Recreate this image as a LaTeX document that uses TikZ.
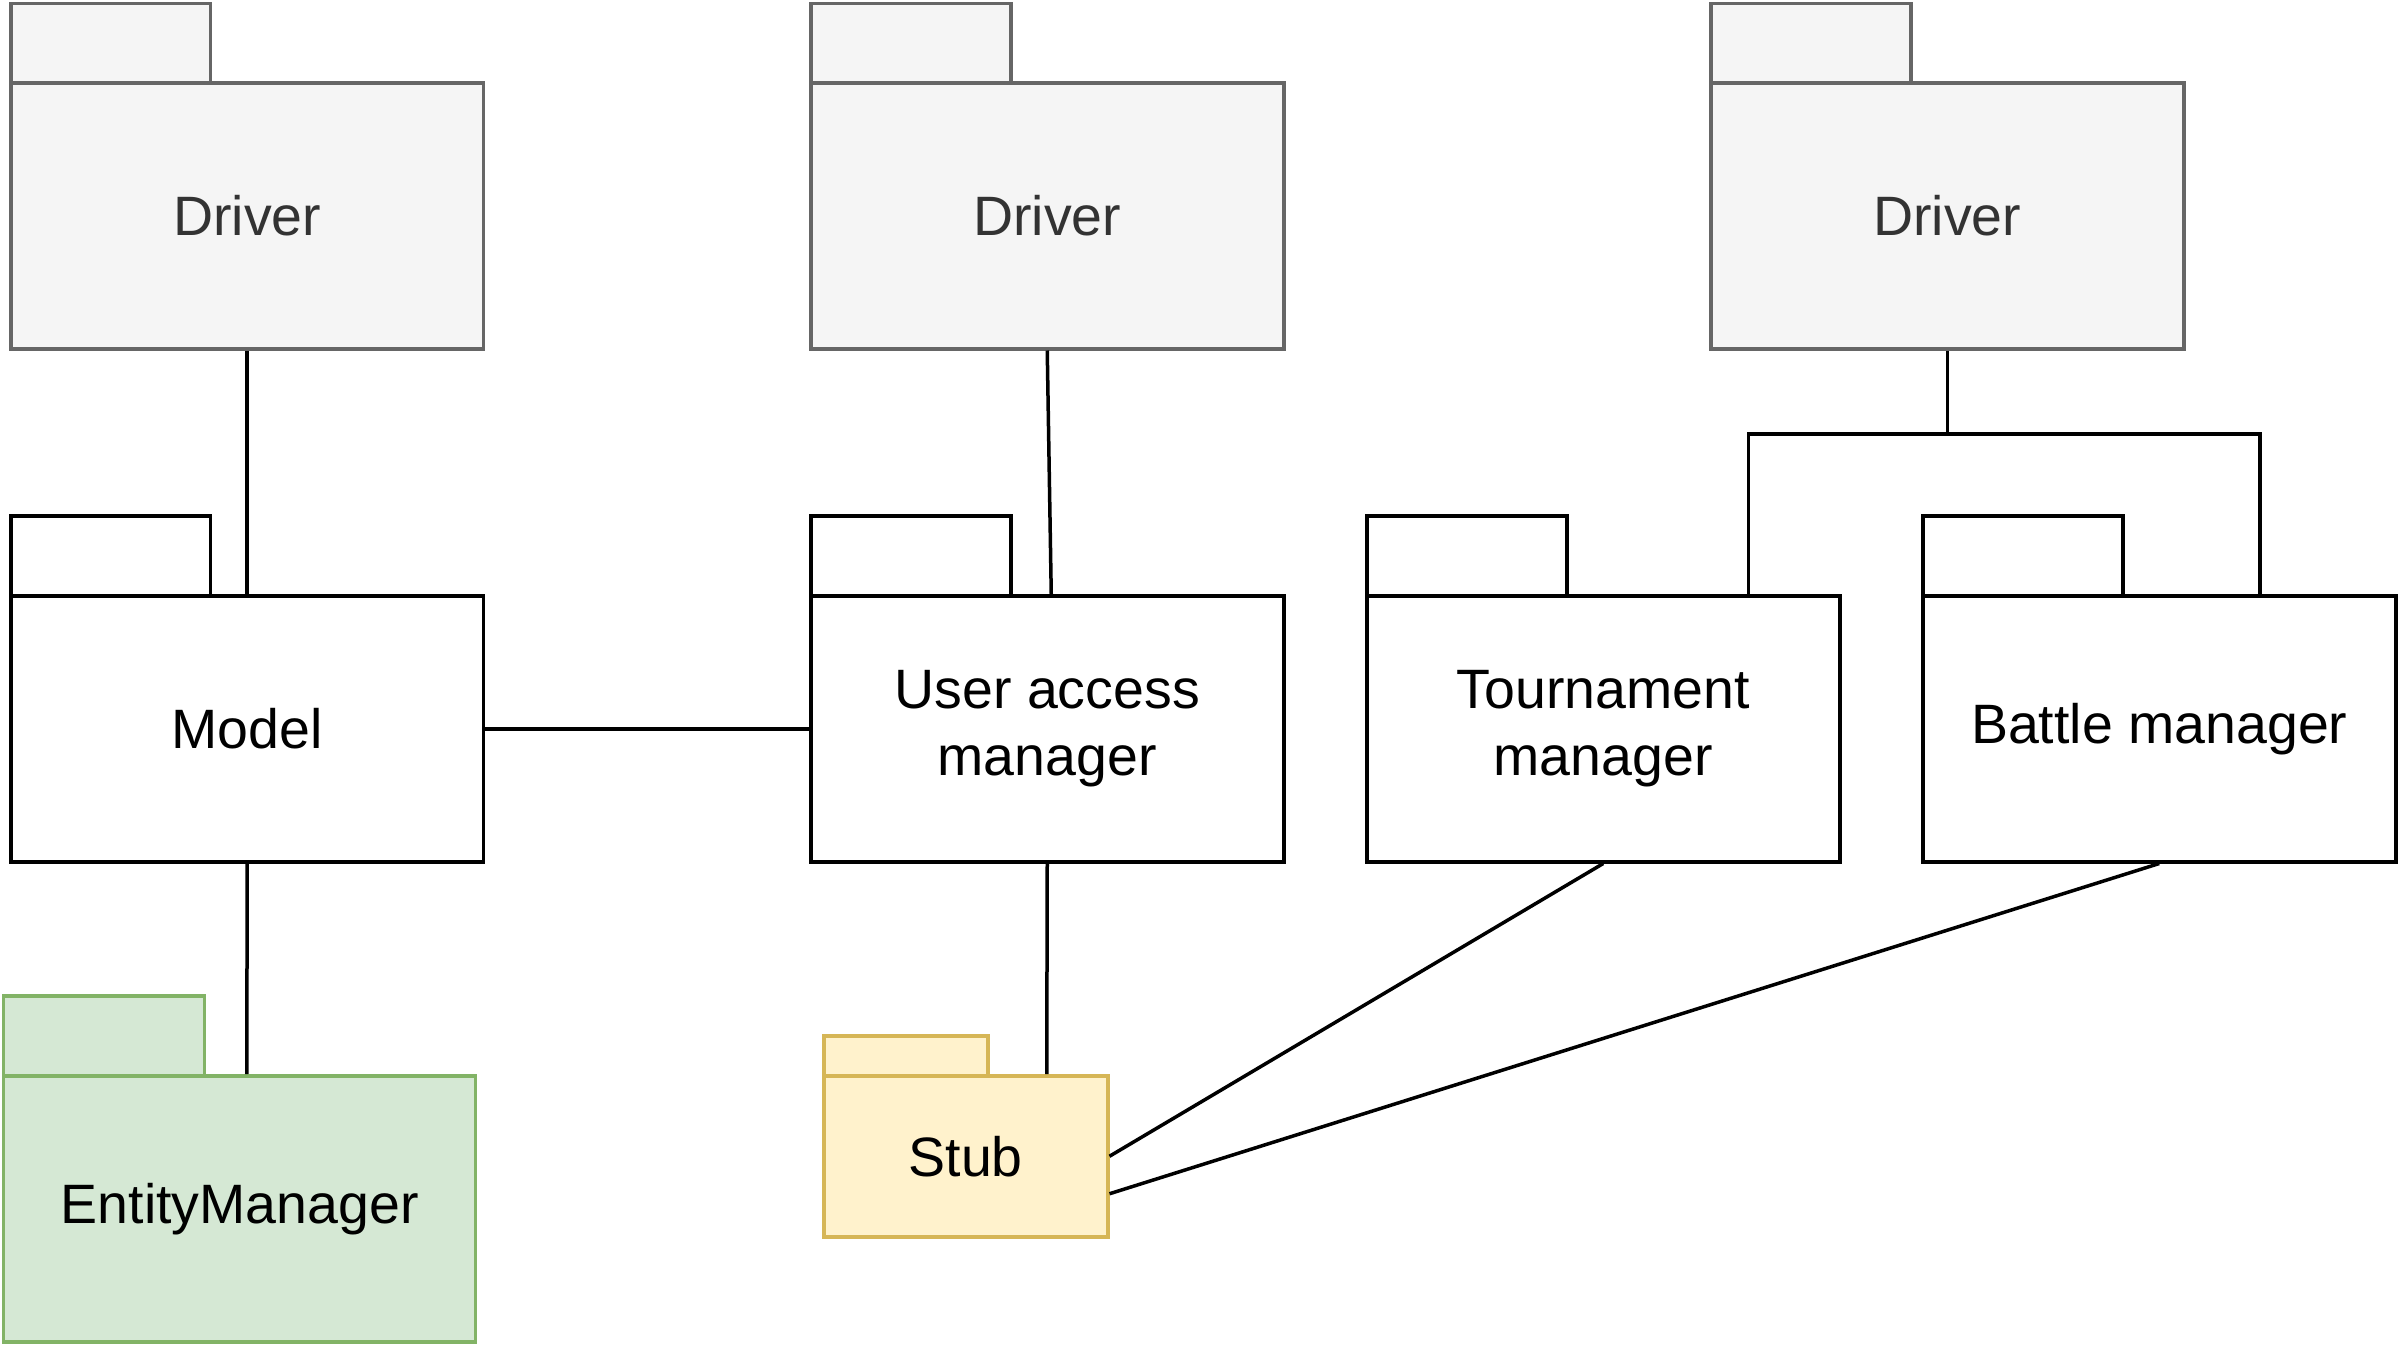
\documentclass[tikz,border=0pt]{standalone}
\usepackage{fontspec}
\setmainfont{Liberation Sans}
\definecolor{drvfill}{HTML}{F5F5F5}
\definecolor{drvline}{HTML}{666666}
\definecolor{drvtext}{HTML}{333333}
\definecolor{emfill}{HTML}{D5E8D4}
\definecolor{emline}{HTML}{82B366}
\definecolor{stubfill}{HTML}{FFF2CC}
\definecolor{stubline}{HTML}{D6B656}
\begin{document}
\begin{tikzpicture}[x=0.3pt,y=-0.3pt,
  pkgbody/.style={draw, line width=1.05pt, rectangle, inner sep=0pt, anchor=north west,
    minimum width=141.9pt, minimum height=79.8pt, align=center,
    font=\fontsize{16.65pt}{20pt}\selectfont},
  pkgtab/.style={draw, line width=1.05pt, rectangle, inner sep=0pt, anchor=north west,
    minimum width=60pt, minimum height=24pt},
  drv/.style={fill=drvfill, draw=drvline, text=drvtext},
  plain/.style={fill=white, draw=black, text=black},
  emstyle/.style={fill=emfill, draw=emline, text=black},
  stubstyle/.style={fill=stubfill, draw=stubline, text=black},
  conn/.style={draw=black, line width=1.05pt}
]
\useasboundingbox (0,0) rectangle (2400,1344);

% Drivers
\node[pkgtab, drv] (d1t) at (9,1.5) {};
\node[pkgbody, drv] (d1) at (9,81) {Driver};
\node[pkgtab, drv] (d2t) at (809,1.5) {};
\node[pkgbody, drv] (d2) at (809,81) {Driver};
\node[pkgtab, drv] (d3t) at (1709,1.5) {};
\node[pkgbody, drv] (d3) at (1709,81) {Driver};

% Middle row
\node[pkgtab, plain] (mt) at (9,514) {};
\node[pkgbody, plain] (model) at (9,594) {Model};
\node[pkgtab, plain] (ut) at (809,514) {};
\node[pkgbody, plain] (uam) at (809,594) {User access\\manager};
\node[pkgtab, plain] (tt) at (1365,514) {};
\node[pkgbody, plain] (tm) at (1365,594) {Tournament\\manager};
\node[pkgtab, plain] (bt) at (1921,514) {};
\node[pkgbody, plain] (bm) at (1921,594) {Battle manager};

% Bottom row
\node[pkgtab, emstyle, minimum width=60.3pt] (et) at (2,994) {};
\node[pkgbody, emstyle, minimum width=141.6pt] (em) at (2,1074) {EntityManager};
\node[pkgtab, stubstyle, minimum width=49.2pt, minimum height=12pt] (st) at (822,1034) {};
\node[pkgbody, stubstyle, minimum width=85.2pt, minimum height=48.3pt] (stub) at (822,1074) {Stub};

% Connectors
\draw[conn] (d1.south) -- (model.north);
\draw[conn] (d2.south) -- ([xshift=1.2pt]uam.north);
\draw[conn] (model.east) -- (uam.west);
\draw[conn] (model.south) -- ([xshift=2.1pt]em.north);
\draw[conn] (uam.south) -- ([xshift=24.3pt]stub.north);
\coordinate (j) at ([yshift=-25.05pt]d3.south);
\draw[conn] (d3.south) -- (j);
\draw[conn] ([xshift=43.5pt]tm.north) |- (j) -| ([xshift=30.15pt]bm.north);
\draw[conn] (tm.south) -- (stub.east);
\draw[conn] (bm.south) -- ([yshift=-11.25pt]stub.east);
\end{tikzpicture}
\end{document}
